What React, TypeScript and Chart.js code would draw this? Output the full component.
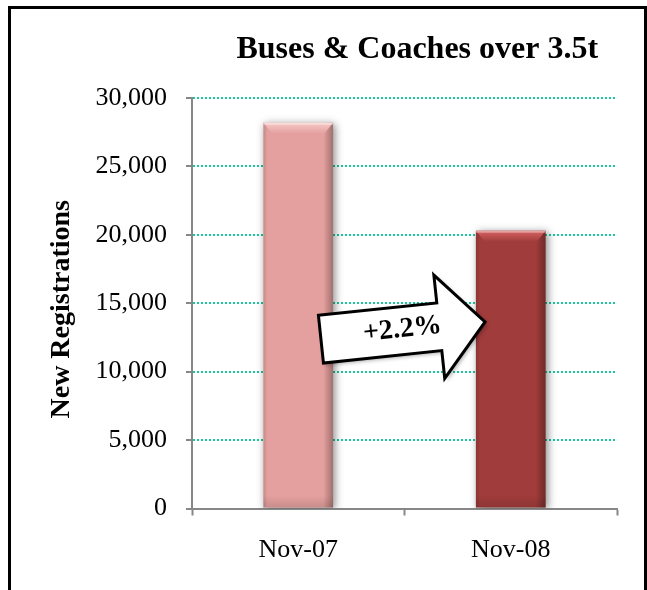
import React, { useEffect, useRef } from 'react';
import { Chart, registerables } from 'chart.js';

Chart.register(...registerables);

const TITLE = 'Buses & Coaches over 3.5t';
const Y_TITLE = 'New Registrations';
const CATEGORIES = ['Nov-07', 'Nov-08'];
const REGISTRATIONS = [28200, 20300];
const BAR_COLORS = ['#E4A09E', '#A03C3B'];
const BAR_CAP_COLORS = ['#F6CAC8', '#D86462'];
const Y_MIN = 0;
const Y_MAX = 30000;
const Y_STEP = 5000;
const ARROW_LABEL = '+2.2%';

const SERIF = '"Liberation Serif", "Times New Roman", serif';
const GRID_COLOR = '#17C99C';
const AXIS_COLOR = '#878787';

const titlePlugin = {
  id: 'titleText',
  afterDraw(chart: any) {
    const { ctx, chartArea } = chart;
    ctx.save();
    ctx.font = `bold 32px ${SERIF}`;
    ctx.fillStyle = '#000';
    ctx.textAlign = 'center';
    ctx.textBaseline = 'alphabetic';
    ctx.fillText(TITLE, chartArea.left + chartArea.width * 0.53, 49);
    // y-axis title
    ctx.save();
    ctx.translate(58, (chartArea.top + chartArea.bottom) / 2 + 6);
    ctx.rotate(-Math.PI / 2);
    ctx.font = `bold 28px ${SERIF}`;
    ctx.textBaseline = 'alphabetic';
    ctx.fillText(Y_TITLE, 0, 0);
    ctx.restore();
    ctx.restore();
  },
};

const barShadowPlugin = {
  id: 'barShadow',
  beforeDatasetDraw(chart: any) {
    const ctx = chart.ctx;
    ctx.save();
    ctx.shadowColor = 'rgba(0,0,0,0.45)';
    ctx.shadowBlur = 8;
    ctx.shadowOffsetX = 2;
    ctx.shadowOffsetY = 1;
  },
  afterDatasetDraw(chart: any) {
    chart.ctx.restore();
  },
};

const bevelPlugin = {
  id: 'bevel',
  afterDatasetsDraw(chart: any) {
    const ctx = chart.ctx;
    const meta = chart.getDatasetMeta(0);
    meta.data.forEach((bar: any, i: number) => {
      const { x, y, base, width } = bar.getProps(['x', 'y', 'base', 'width'], true);
      const left = x - width / 2;
      const right = x + width / 2;
      const h = base - y;
      ctx.save();
      const g = ctx.createLinearGradient(left, 0, right, 0);
      g.addColorStop(0, 'rgba(0,0,0,0.14)');
      g.addColorStop(0.06, 'rgba(0,0,0,0)');
      g.addColorStop(0.86, 'rgba(0,0,0,0)');
      g.addColorStop(1, 'rgba(0,0,0,0.30)');
      ctx.fillStyle = g;
      ctx.fillRect(left, y, width, h);
      const gb = ctx.createLinearGradient(0, base - 12, 0, base);
      gb.addColorStop(0, 'rgba(0,0,0,0)');
      gb.addColorStop(1, 'rgba(0,0,0,0.12)');
      ctx.fillStyle = gb;
      ctx.fillRect(left, base - 12, width, 12);
      const capH = 11;
      const gc = ctx.createLinearGradient(0, y, 0, y + capH);
      gc.addColorStop(0, BAR_CAP_COLORS[i]);
      gc.addColorStop(1, BAR_COLORS[i]);
      ctx.fillStyle = gc;
      ctx.beginPath();
      ctx.moveTo(left, y);
      ctx.lineTo(right, y);
      ctx.lineTo(right - 9, y + capH);
      ctx.lineTo(left + 9, y + capH);
      ctx.closePath();
      ctx.fill();
      ctx.fillStyle = 'rgba(255,255,255,0.4)';
      ctx.fillRect(left, y, width, 2);
      ctx.restore();
    });
  },
};

const arrowPlugin = {
  id: 'arrow',
  afterDatasetsDraw(chart: any) {
    const { ctx } = chart;
    const xs = chart.scales.x;
    const ys = chart.scales.y;
    const cx = xs.getPixelForValue(0.5) - 2;
    const cy = ys.getPixelForValue(13000);
    ctx.save();
    ctx.translate(cx, cy);
    ctx.rotate((-6 * Math.PI) / 180);
    ctx.beginPath();
    ctx.moveTo(-82, -24);
    ctx.lineTo(37, -24);
    ctx.lineTo(37, -52);
    ctx.lineTo(83, 0);
    ctx.lineTo(37, 52);
    ctx.lineTo(37, 24);
    ctx.lineTo(-82, 24);
    ctx.closePath();
    ctx.save();
    ctx.shadowColor = 'rgba(0,0,0,0.35)';
    ctx.shadowBlur = 4;
    ctx.shadowOffsetX = 2;
    ctx.shadowOffsetY = 2;
    ctx.fillStyle = '#fff';
    ctx.fill();
    ctx.restore();
    ctx.lineWidth = 3;
    ctx.lineJoin = 'miter';
    ctx.strokeStyle = '#000';
    ctx.stroke();
    ctx.font = `bold 28px ${SERIF}`;
    ctx.fillStyle = '#000';
    ctx.textAlign = 'center';
    ctx.textBaseline = 'middle';
    ctx.fillText(ARROW_LABEL, 0, -1);
    ctx.restore();
  },
};

export default function App() {
  const ref = useRef<HTMLCanvasElement>(null);

  useEffect(() => {
    if (!ref.current) return;
    const chart = new Chart(ref.current, {
      type: 'bar',
      data: {
        labels: CATEGORIES,
        datasets: [
          {
            label: Y_TITLE,
            data: REGISTRATIONS,
            backgroundColor: BAR_COLORS,
            borderWidth: 0,
            barPercentage: 0.328,
            categoryPercentage: 1,
          },
        ],
      },
      options: {
        animation: false,
        responsive: false,
        devicePixelRatio: 1,
        layout: { padding: { top: 89, right: 27, left: 0, bottom: 0 } },
        plugins: {
          legend: { display: false },
          title: { display: false },
          tooltip: { enabled: false },
        },
        scales: {
          x: {
            offset: true,
            afterFit(scale: any) {
              scale.height = 81.5;
            },
            grid: {
              offset: true,
              drawOnChartArea: false,
              drawTicks: true,
              tickLength: 7,
              tickWidth: 2,
              tickColor: AXIS_COLOR,
              color: AXIS_COLOR,
            },
            border: { display: true, color: AXIS_COLOR, width: 2 },
            ticks: {
              color: '#000',
              padding: 19,
              font: { family: SERIF, size: 26 },
            },
          },
          y: {
            min: Y_MIN,
            max: Y_MAX,
            afterFit(scale: any) {
              scale.width = 181;
            },
            grid: {
              color: (c: any) => (c.tick && c.tick.value === 0 ? 'rgba(0,0,0,0)' : GRID_COLOR),
              lineWidth: 2,
              drawTicks: true,
              tickLength: 6,
              tickWidth: 2,
              tickColor: AXIS_COLOR,
              tickBorderDash: [],
            },
            border: { display: true, color: AXIS_COLOR, width: 2, dash: [2, 2] },
            ticks: {
              stepSize: Y_STEP,
              color: '#000',
              padding: 19,
              font: { family: SERIF, size: 26 },
              callback: (v: any) => Number(v).toLocaleString('en-US'),
            },
          },
        },
      },
      plugins: [titlePlugin, barShadowPlugin, bevelPlugin, arrowPlugin],
    } as any);
    return () => chart.destroy();
  }, []);

  return (
    <div
      style={{
        position: 'fixed',
        left: 8,
        top: 6,
        width: 639,
        height: 620,
        border: '3px solid #000',
        boxSizing: 'border-box',
        background: '#fff',
      }}
    >
      <canvas ref={ref} width={633} height={581} style={{ display: 'block' }} />
    </div>
  );
}
